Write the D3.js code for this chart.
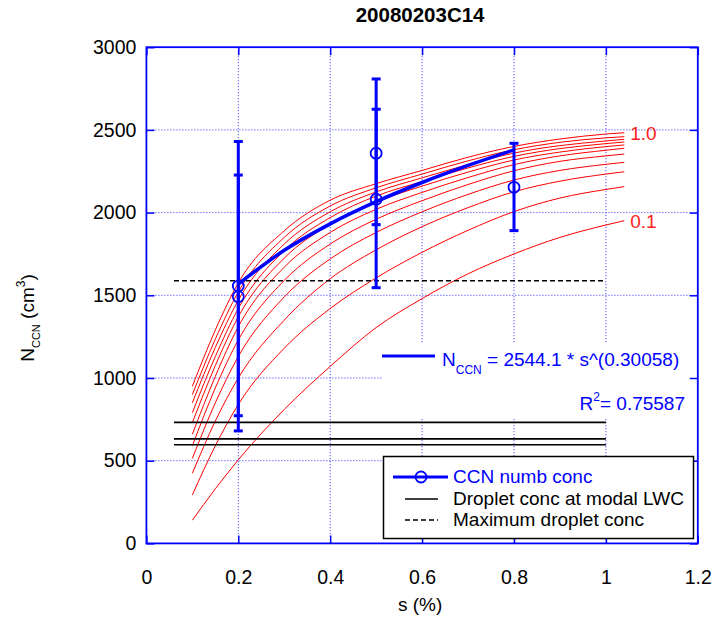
<!DOCTYPE html>
<html><head><meta charset="utf-8">
<script src="https://cdn.jsdelivr.net/npm/d3@7"></script>
<style>
body{margin:0;background:#fff;}
svg{display:block;font-family:"Liberation Sans",Arial,Helvetica,sans-serif;}
</style></head><body>
<svg id="chart" width="714" height="630"></svg>
<script>
// ---------- data ----------
const chartTitle = "20080203C14";
const xTicks = [0, 0.2, 0.4, 0.6, 0.8, 1, 1.2];
const yTicks = [0, 500, 1000, 1500, 2000, 2500, 3000];

// red model curves (bottom "0.1" to top "1.0")
const curveS = [0.1, 0.15, 0.2, 0.3, 0.4, 0.5, 0.6, 0.7, 0.8, 0.9, 1.0, 1.04];
const curve00 = [140, 330, 505, 810, 1070, 1305, 1480, 1630, 1750, 1850, 1925, 1951];
const curve01 = [293, 590, 840, 1180, 1420, 1605, 1760, 1893, 2006, 2088, 2140, 2157];
const curve02 = [424, 740, 1000, 1350, 1600, 1775, 1915, 2030, 2126, 2190, 2233, 2247];
const curve03 = [514, 850, 1130, 1490, 1720, 1880, 2005, 2110, 2197, 2255, 2292, 2304];
const curve04 = [590, 940, 1230, 1590, 1810, 1960, 2072, 2170, 2253, 2310, 2343, 2354];
const curve05 = [660, 1010, 1310, 1670, 1880, 2020, 2122, 2212, 2290, 2343, 2377, 2389];
const curve06 = [730, 1075, 1370, 1725, 1930, 2065, 2160, 2245, 2318, 2366, 2399, 2409];
const curve07 = [790, 1130, 1420, 1770, 1970, 2100, 2188, 2270, 2340, 2387, 2417, 2427];
const curve08 = [850, 1185, 1470, 1810, 2005, 2125, 2210, 2290, 2360, 2405, 2433, 2443];
const curve09 = [900, 1235, 1520, 1850, 2040, 2150, 2233, 2313, 2380, 2425, 2452, 2459];
const curve10 = [950, 1290, 1575, 1890, 2075, 2175, 2255, 2335, 2400, 2445, 2475, 2483];
const redCurves = [curve00, curve01, curve02, curve03, curve04, curve05, curve06, curve07, curve08, curve09, curve10];
const lowCurveLabel = "0.1";
const highCurveLabel = "1.0";

// CCN measurements with error bars
const ccnS  = [0.2, 0.2, 0.5, 0.5, 0.8];
const ccnN  = [1556, 1492, 2359, 2081, 2153];
const ccnLo = [680, 772, 1927, 1546, 1891];
const ccnHi = [2430, 2227, 2808, 2625, 2419];

// power-law fit N = 2544.1 * s^0.30058
const fitS = [0.2, 0.3, 0.4, 0.5, 0.6, 0.7, 0.8];
const fitN = [1568, 1772, 1932, 2066, 2182, 2285, 2379];
const fitText = " = 2544.1 * s^(0.30058)";
const r2Text = "= 0.75587";

// droplet concentrations
const dropletS = [0.06, 1.0];
const dropletN = [732, 632, 596];
const maxDropletN = 1588;

const legendLabels = ["CCN numb conc", "Droplet conc at modal LWC", "Maximum droplet conc"];

// ---------- drawing ----------
const svg = d3.select("#chart");
const L = 146.4, R = 697.8, T = 47.2, B = 543.4;
const x = d3.scaleLinear().domain([0, 1.2]).range([L, R]);
const y = d3.scaleLinear().domain([0, 3000]).range([B, T]);
const blue = "#0000ff";
const gridBlue = "#2a2aff";
const fontSize = 19;

svg.append("rect").attr("width", 714).attr("height", 630).attr("fill", "#fff");

// title
svg.append("text").attr("x", (L + R) / 2 - 2).attr("y", 22).attr("text-anchor", "middle")
  .attr("font-weight", "bold").attr("font-size", 20.5).attr("fill", "#000").text(chartTitle);

// grid
const grid = svg.append("g");
xTicks.filter(d => d > 0 && d < 1.2).forEach(d => {
  grid.append("line").attr("x1", x(d)).attr("x2", x(d)).attr("y1", T).attr("y2", B)
    .attr("stroke", gridBlue).attr("stroke-width", 1).attr("stroke-dasharray", "1,2");
});
yTicks.filter(d => d > 0 && d < 3000).forEach(d => {
  grid.append("line").attr("x1", L).attr("x2", R).attr("y1", y(d)).attr("y2", y(d))
    .attr("stroke", gridBlue).attr("stroke-width", 1).attr("stroke-dasharray", "1,2");
});

// axes with inward ticks
const axB = svg.append("g").attr("transform", `translate(0,${B})`)
  .call(d3.axisBottom(x).tickValues(xTicks).tickSizeInner(-8).tickSizeOuter(0).tickPadding(27)
    .tickFormat(d3.format("~g")));
const axL = svg.append("g").attr("transform", `translate(${L},0)`)
  .call(d3.axisLeft(y).tickValues(yTicks).tickSizeInner(-8).tickSizeOuter(0).tickPadding(10)
    .tickFormat(d3.format("d")));
const axT = svg.append("g").attr("transform", `translate(0,${T})`)
  .call(d3.axisTop(x).tickValues(xTicks).tickSizeInner(-8).tickSizeOuter(0).tickFormat(""));
const axR = svg.append("g").attr("transform", `translate(${R},0)`)
  .call(d3.axisRight(y).tickValues(yTicks).tickSizeInner(-8).tickSizeOuter(0).tickFormat(""));
[axB, axL, axT, axR].forEach(g => {
  g.select(".domain").remove();
  g.selectAll(".tick line").attr("stroke", blue).attr("stroke-width", 1.5);
  g.selectAll(".tick text").attr("fill", "#000").attr("font-size", 19.5)
    .attr("font-family", "'Liberation Sans',Arial,sans-serif");
});

// red curves
const curveLine = d3.line().x((d, i) => x(curveS[i])).y(d => y(d)).curve(d3.curveMonotoneX);
const curvesG = svg.append("g");
redCurves.forEach(c => {
  curvesG.append("path").attr("d", curveLine(c)).attr("fill", "none")
    .attr("stroke", "#ff0000").attr("stroke-width", 1);
});
const lastS = curveS[curveS.length - 1];
svg.append("text").attr("x", x(lastS) + 6).attr("y", y(curve10[curve10.length - 1]) + 7)
  .attr("font-size", fontSize).attr("fill", "#ff2020").text(highCurveLabel);
svg.append("text").attr("x", x(lastS) + 6).attr("y", y(curve00[curve00.length - 1]) + 7)
  .attr("font-size", fontSize).attr("fill", "#ff2020").text(lowCurveLabel);

// droplet lines
dropletN.forEach(v => {
  svg.append("line").attr("x1", x(dropletS[0])).attr("x2", x(dropletS[1]))
    .attr("y1", y(v)).attr("y2", y(v)).attr("stroke", "#000").attr("stroke-width", 1.6);
});
svg.append("line").attr("x1", x(dropletS[0])).attr("x2", x(dropletS[1]))
  .attr("y1", y(maxDropletN)).attr("y2", y(maxDropletN))
  .attr("stroke", "#000").attr("stroke-width", 1.3).attr("stroke-dasharray", "5,3");

// annotation box (white background)
svg.append("rect").attr("x", 383).attr("y", 344).attr("width", R - 1 - 383).attr("height", 75)
  .attr("fill", "#fff");
svg.append("line").attr("x1", 382).attr("x2", 435).attr("y1", 356).attr("y2", 356)
  .attr("stroke", blue).attr("stroke-width", 3);
const eq = svg.append("text").attr("x", 442).attr("y", 366).attr("font-size", fontSize).attr("fill", blue);
eq.append("tspan").text("N");
eq.append("tspan").attr("font-size", 12).attr("dy", 8).text("CCN");
eq.append("tspan").attr("dy", -8).text(fitText);
const r2 = svg.append("text").attr("x", 685).attr("y", 410).attr("text-anchor", "end")
  .attr("font-size", fontSize).attr("fill", blue);
r2.append("tspan").text("R");
r2.append("tspan").attr("font-size", 12).attr("dy", -9).text("2");
r2.append("tspan").attr("dy", 9).text(r2Text);

axR.raise();

// fit line
svg.append("path")
  .attr("d", d3.line().x((d, i) => x(fitS[i])).y(d => y(d)).curve(d3.curveMonotoneX)(fitN))
  .attr("fill", "none").attr("stroke", blue).attr("stroke-width", 3.5);

// error bars + markers
const eb = svg.append("g");
ccnS.forEach((s, i) => {
  const cx = x(s);
  eb.append("line").attr("x1", cx).attr("x2", cx).attr("y1", y(ccnLo[i])).attr("y2", y(ccnHi[i]))
    .attr("stroke", blue).attr("stroke-width", 3);
  [ccnLo[i], ccnHi[i]].forEach(v => {
    eb.append("line").attr("x1", cx - 4.5).attr("x2", cx + 4.5).attr("y1", y(v)).attr("y2", y(v))
      .attr("stroke", blue).attr("stroke-width", 3);
  });
  eb.append("circle").attr("cx", cx).attr("cy", y(ccnN[i])).attr("r", 5.5)
    .attr("fill", "none").attr("stroke", blue).attr("stroke-width", 1.8);
});

// legend
const lg = svg.append("g");
lg.append("rect").attr("x", 383.5).attr("y", 456.5).attr("width", 310).attr("height", 82)
  .attr("fill", "#fff").attr("stroke", "#000").attr("stroke-width", 1.5);
lg.append("line").attr("x1", 393).attr("x2", 448).attr("y1", 477).attr("y2", 477)
  .attr("stroke", blue).attr("stroke-width", 3);
lg.append("circle").attr("cx", 421).attr("cy", 477).attr("r", 5.5)
  .attr("fill", "none").attr("stroke", blue).attr("stroke-width", 1.8);
lg.append("line").attr("x1", 405).attr("x2", 438).attr("y1", 499).attr("y2", 499)
  .attr("stroke", "#000").attr("stroke-width", 1.3);
lg.append("line").attr("x1", 405).attr("x2", 438).attr("y1", 520).attr("y2", 520)
  .attr("stroke", "#000").attr("stroke-width", 1.3).attr("stroke-dasharray", "5,3");
const lgBase = [483, 505, 526];
legendLabels.forEach((t, i) => {
  lg.append("text").attr("x", 453).attr("y", lgBase[i]).attr("font-size", fontSize)
    .attr("fill", i === 0 ? blue : "#000").text(t);
});

// frame
svg.append("rect").attr("x", L).attr("y", T).attr("width", R - L).attr("height", B - T)
  .attr("fill", "none").attr("stroke", blue).attr("stroke-width", 1.8);

// axis titles
svg.append("text").attr("x", (L + R) / 2 - 2).attr("y", 611).attr("text-anchor", "middle")
  .attr("font-size", fontSize).attr("fill", "#000").text("s (%)");
const yt = svg.append("text").attr("transform", "translate(34,318) rotate(-90)")
  .attr("text-anchor", "middle").attr("font-size", fontSize).attr("fill", "#000");
yt.append("tspan").text("N");
yt.append("tspan").attr("font-size", 11).attr("dy", 6).text("CCN");
yt.append("tspan").attr("dy", -6).text(" (cm");
yt.append("tspan").attr("font-size", 12).attr("dy", -9).text("3");
yt.append("tspan").attr("dy", 9).text(")");
</script>
</body></html>
